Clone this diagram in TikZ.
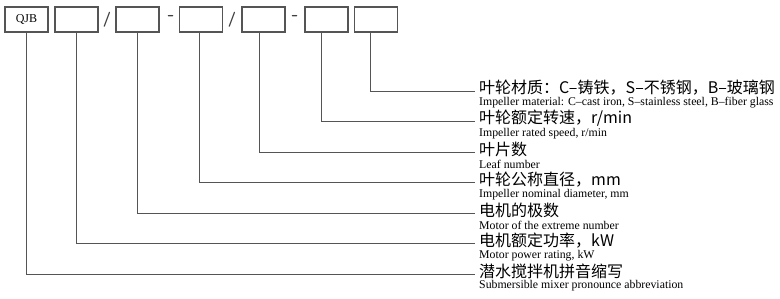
\documentclass[tikz,border=0pt]{standalone}
\usepackage{fontspec}
\setmainfont{Liberation Serif}
\newfontfamily\cjk{Noto Sans CJK SC}
\definecolor{lg}{HTML}{555555}
\begin{document}
\begin{tikzpicture}[x=1pt,y=-1pt,
  cell/.style={draw=lg, line width=1.1pt, minimum width=43pt, minimum height=25pt, inner sep=0pt, font=\fontsize{12}{13}\selectfont},
  lead/.style={draw=lg, line width=0.9pt},
  cn/.style={anchor=west, inner sep=0pt, font=\cjk\fontsize{16}{18}\selectfont},
  en/.style={anchor=west, inner sep=0pt, font=\fontsize{11.8}{13}\selectfont},
  sepmark/.style={inner sep=0pt, text=black!75, font=\sffamily\bfseries\fontsize{15}{16}\selectfont},
  dashmark/.style={inner sep=0pt, text=black!75, font=\sffamily\bfseries\fontsize{19}{20}\selectfont}]
\useasboundingbox (0,0) rectangle (780,298);
% boxes
\node[cell] (b1) at (26.5,19.5) {QJB};
\node[cell] (b2) at (76.5,19.5) {};
\node[cell] (b3) at (137.5,19.5) {};
\node[cell] (b4) at (201,19.5) {};
\node[cell] (b5) at (263.5,19.5) {};
\node[cell] (b6) at (326.5,19.5) {};
\node[cell] (b7) at (376,19.5) {};
% separators
\node[sepmark] (s1) at (107,19.5) {/};
\node[dashmark] (d1) at (171,18) {-};
\node[sepmark] (s2) at (232,19.5) {/};
\node[dashmark] (d2) at (295,18) {-};
% line ends
\coordinate (e1) at (475,91);
\coordinate (e2) at (475,121.5);
\coordinate (e3) at (475,152);
\coordinate (e4) at (475,182.5);
\coordinate (e5) at (475,213);
\coordinate (e6) at (475,243.5);
\coordinate (e7) at (475,274);
% labels
\node[cn] (c1) at (479,88) {叶轮材质：C–铸铁，S–不锈钢，B–玻璃钢};
\node[en] (n1) at (479,103) {Impeller material: C–cast iron, S–stainless steel, B–fiber glass};
\node[cn] (c2) at (479,118.5) {叶轮额定转速，r/min};
\node[en] (n2) at (479,133.5) {Impeller rated speed, r/min};
\node[cn] (c3) at (479,149) {叶片数};
\node[en] (n3) at (479,164) {Leaf number};
\node[cn] (c4) at (479,179.5) {叶轮公称直径，mm};
\node[en] (n4) at (479,194.5) {Impeller nominal diameter, mm};
\node[cn] (c5) at (479,210) {电机的极数};
\node[en] (n5) at (479,225) {Motor of the extreme number};
\node[cn] (c6) at (479,240.5) {电机额定功率，kW};
\node[en] (n6) at (479,255.5) {Motor power rating, kW};
\node[cn] (c7) at (479,271) {潜水搅拌机拼音缩写};
\node[en] (n7) at (479,286) {Submersible mixer pronounce abbreviation};
% connectors
\draw[lead] ([xshift=-6pt]b7.south) |- (e1);
\draw[lead] ([xshift=-5.5pt]b6.south) |- (e2);
\draw[lead] ([xshift=-4.5pt]b5.south) |- (e3);
\draw[lead] ([xshift=-2pt]b4.south) |- (e4);
\draw[lead] (b3.south) |- (e5);
\draw[lead] (b2.south) |- (e6);
\draw[lead] (b1.south) |- (e7);
\end{tikzpicture}
\end{document}
